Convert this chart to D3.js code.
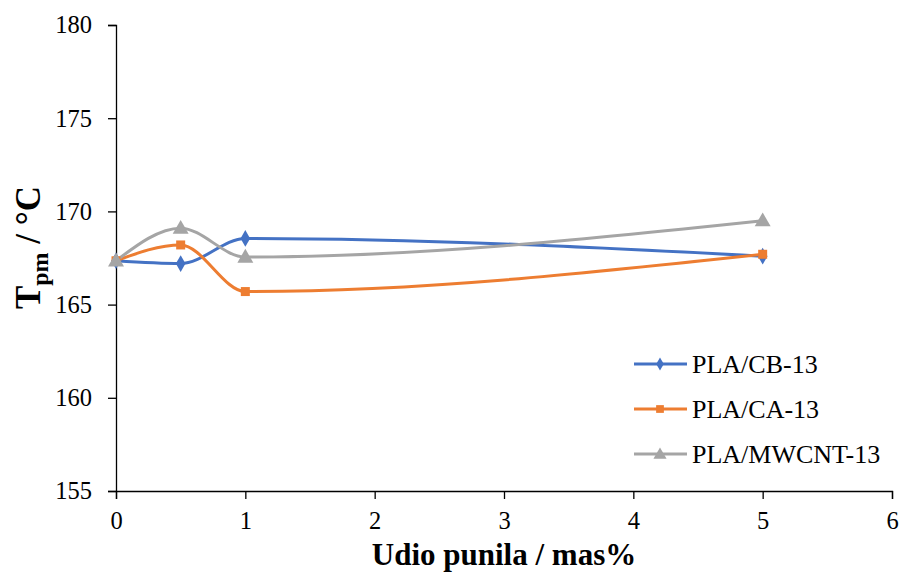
<!DOCTYPE html>
<html><head><meta charset="utf-8">
<script src="https://cdn.jsdelivr.net/npm/d3@7"></script>
<style>body{margin:0;background:#fff}svg{display:block}</style>
</head><body>
<svg id="c" width="903" height="576"></svg>
<script>
const xValues = [0, 0.5, 1, 5];
const seriesNames = ["PLA/CB-13", "PLA/CA-13", "PLA/MWCNT-13"];
const cbValues = [167.35, 167.2, 168.55, 167.6];
const caValues = [167.35, 168.2, 165.7, 167.7];
const mwcntValues = [167.35, 169.1, 167.55, 169.5];
const xTicks = [0, 1, 2, 3, 4, 5, 6];
const yTicks = [155, 160, 165, 170, 175, 180];
const colors = ["#4472C4", "#ED7D31", "#A5A5A5"];
const markerTypes = [d3.symbolDiamond, d3.symbolSquare, d3.symbolTriangle];
const FONT = "Liberation Serif, DejaVu Serif, serif";

const svg = d3.select("#c").style("font-family", FONT);
const x = d3.scaleLinear().domain([0, 6]).range([116, 892]);
const y = d3.scaleLinear().domain([155, 180]).range([491, 25]);

const xAxis = svg.append("g").attr("transform", "translate(0,491)")
  .call(d3.axisBottom(x).tickValues(xTicks).tickSize(8).tickPadding(13).tickFormat(d3.format("d")));
const yAxis = svg.append("g").attr("transform", "translate(116,0)")
  .call(d3.axisLeft(y).tickValues(yTicks).tickSize(8).tickPadding(16).tickFormat(d3.format("d")));
[xAxis, yAxis].forEach(a => {
  a.attr("font-family", null).attr("font-size", 24.5);
  a.select(".domain").attr("stroke", "#000").attr("stroke-width", 1.3);
  a.selectAll(".tick line").attr("stroke", "#000").attr("stroke-width", 1.3);
  a.selectAll(".tick text").attr("fill", "#000").style("font-family", FONT);
});

const data = [cbValues, caValues, mwcntValues];
const line = d3.line().x((d, i) => x(xValues[i])).y(d => y(d)).curve(d3.curveMonotoneX);

data.forEach((vals, s) => {
  svg.append("path").datum(vals).attr("d", line).attr("fill", "none")
    .attr("stroke", colors[s]).attr("stroke-width", 3);
});
data.forEach((vals, s) => {
  const size = s === 0 ? 80 : (s === 1 ? 81 : 110);
  svg.append("g").selectAll("path").data(vals).join("path")
    .attr("d", d3.symbol().type(markerTypes[s]).size(size))
    .attr("transform", (d, i) => `translate(${x(xValues[i])},${y(d) + (s === 2 ? 1 : 0)})`)
    .attr("fill", colors[s]);
});

const legendYs = [364, 409, 454];
seriesNames.forEach((name, s) => {
  const g = svg.append("g").attr("transform", `translate(0,${legendYs[s]})`);
  g.append("line").attr("x1", 634).attr("x2", 687).attr("y1", 0).attr("y2", 0)
    .attr("stroke", colors[s]).attr("stroke-width", 3);
  g.append("path").attr("d", d3.symbol().type(markerTypes[s]).size(s === 2 ? 75 : (s === 1 ? 60 : 50)))
    .attr("transform", `translate(660,${s === 2 ? 1 : 0})`).attr("fill", colors[s]);
  g.append("text").attr("x", 692).attr("y", 8.5).attr("font-size", 26).attr("fill", "#000")
    .style("font-family", FONT).text(name);
});

svg.append("text").attr("x", 504).attr("y", 565).attr("text-anchor", "middle").style("font-family", FONT)
  .attr("font-size", 31).attr("font-weight", "bold").attr("fill", "#000").text("Udio punila / mas%");
const yt = svg.append("text").attr("transform", "translate(40,247.5) rotate(-90)").style("font-family", FONT)
  .attr("text-anchor", "middle").attr("font-size", 35).attr("font-weight", "bold").attr("fill", "#000");
yt.append("tspan").text("T");
yt.append("tspan").attr("font-size", 24).attr("dy", 8).text("pm");
yt.append("tspan").attr("dy", -8).text(" / °C");
</script>
</body></html>
